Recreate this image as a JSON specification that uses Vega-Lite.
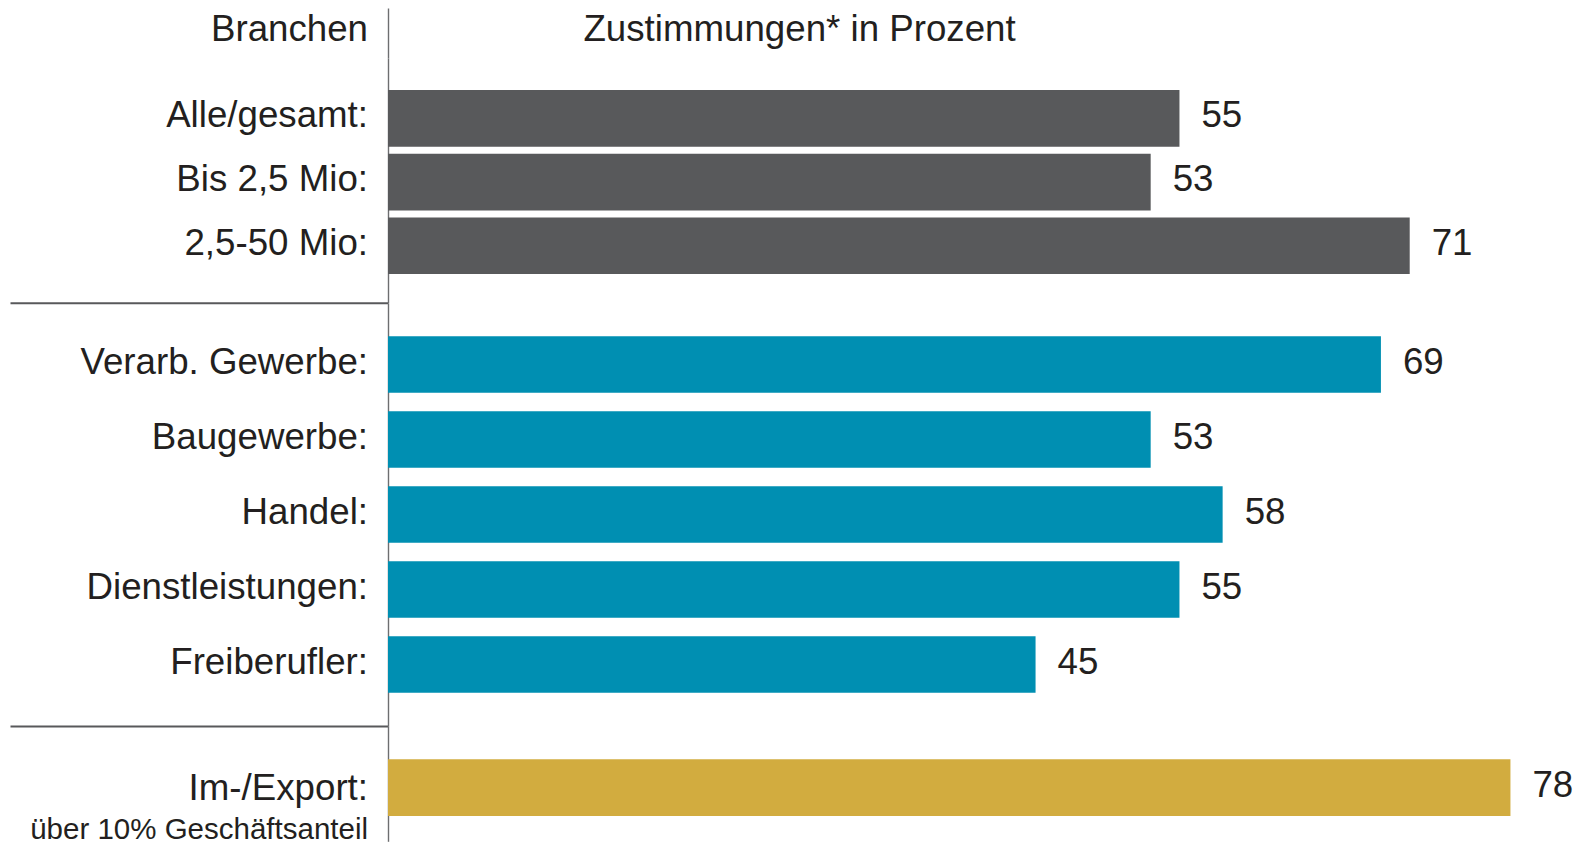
{
  "$schema": "https://vega.github.io/schema/vega-lite/v6.json",
  "padding": {"left": 10, "top": 8, "right": 0, "bottom": 0},
  "autosize": {"type": "pad"},
  "background": "white",
  "config": {"view": {"stroke": null}, "font": "Liberation Sans"},
  "datasets": {
    "head": [{"row": "h", "branch": "Branchen", "title": "Zustimmungen* in Prozent"}],
    "g1": [
      {"label": "Alle/gesamt:", "value": 55},
      {"label": "Bis 2,5 Mio:", "value": 53},
      {"label": "2,5-50 Mio:", "value": 71}
    ],
    "g2": [
      {"label": "Verarb. Gewerbe:", "value": 69},
      {"label": "Baugewerbe:", "value": 53},
      {"label": "Handel:", "value": 58},
      {"label": "Dienstleistungen:", "value": 55},
      {"label": "Freiberufler:", "value": 45}
    ],
    "g3": [
      {"label": "Im-/Export:", "sub": "über 10% Geschäftsanteil", "value": 78}
    ]
  },
  "columns": 2,
  "spacing": 0,
  "bounds": "flush",
  "concat": [
    {
      "width": 378, "height": 50,
      "data": {"name": "head"},
      "mark": {"type": "text", "align": "right", "baseline": "alphabetic", "dx": -20, "dy": 7.5, "fontSize": 36.7, "font": "Liberation Sans", "color": "#231f20"},
      "encoding": {
        "y": {"field": "row", "type": "nominal", "axis": null, "scale": {"type": "band", "paddingInner": 0, "paddingOuter": 0}},
        "x": {"datum": 1, "type": "quantitative", "scale": {"domain": [0, 1], "nice": false}, "axis": null},
        "text": {"field": "branch"}
      }
    },
    {
      "width": 1180, "height": 50,
      "data": {"name": "head"},
      "mark": {"type": "text", "align": "center", "baseline": "alphabetic", "dy": 7.5, "fontSize": 36.7, "font": "Liberation Sans", "color": "#231f20"},
      "encoding": {
        "y": {"field": "row", "type": "nominal", "scale": {"type": "band", "paddingInner": 0, "paddingOuter": 0},
              "axis": {"domain": true, "domainColor": "#6d6e70", "domainWidth": 1.4, "ticks": false, "labels": false, "grid": false, "title": null}},
        "x": {"datum": 28.6, "type": "quantitative", "scale": {"domain": [0, 82], "nice": false}, "axis": null},
        "text": {"field": "title"}
      }
    },
    {
      "width": 378, "height": 244.7,
      "data": {"name": "g1"},
      "mark": {"type": "text", "align": "right", "baseline": "alphabetic", "dx": -20, "dy": 9, "fontSize": 36.7, "font": "Liberation Sans", "color": "#231f20"},
      "encoding": {
        "y": {"field": "label", "type": "nominal", "sort": null, "axis": null, "scale": {"type": "band", "paddingInner": 0.11, "paddingOuter": 0.4757, "align": 0.528}},
        "x": {"datum": 1, "type": "quantitative", "scale": {"domain": [0, 1], "nice": false},
              "axis": {"domain": true, "domainColor": "#58595b", "domainWidth": 2, "ticks": false, "labels": false, "grid": false, "title": null}},
        "text": {"field": "label"}
      }
    },
    {
      "width": 1180, "height": 244.7,
      "data": {"name": "g1"},
      "encoding": {
        "y": {"field": "label", "type": "nominal", "sort": null, "scale": {"type": "band", "paddingInner": 0.11, "paddingOuter": 0.4757, "align": 0.528},
              "axis": {"domain": true, "domainColor": "#6d6e70", "domainWidth": 1.4, "ticks": false, "labels": false, "grid": false, "title": null}},
        "x": {"field": "value", "type": "quantitative", "scale": {"domain": [0, 82], "nice": false}, "axis": null}
      },
      "layer": [
        {"mark": {"type": "bar", "color": "#58595b"}},
        {"mark": {"type": "text", "align": "left", "baseline": "alphabetic", "dx": 22, "dy": 9, "fontSize": 36.7, "font": "Liberation Sans", "color": "#231f20"},
         "encoding": {"text": {"field": "value"}}}
      ]
    },
    {
      "width": 378, "height": 423,
      "data": {"name": "g2"},
      "mark": {"type": "text", "align": "right", "baseline": "alphabetic", "dx": -20, "dy": 9, "fontSize": 36.7, "font": "Liberation Sans", "color": "#231f20"},
      "encoding": {
        "y": {"field": "label", "type": "nominal", "sort": null, "axis": null, "scale": {"type": "band", "paddingInner": 0.244, "paddingOuter": 0.442, "align": 0.5}},
        "x": {"datum": 1, "type": "quantitative", "scale": {"domain": [0, 1], "nice": false},
              "axis": {"domain": true, "domainColor": "#58595b", "domainWidth": 2, "ticks": false, "labels": false, "grid": false, "title": null}},
        "text": {"field": "label"}
      }
    },
    {
      "width": 1180, "height": 423,
      "data": {"name": "g2"},
      "encoding": {
        "y": {"field": "label", "type": "nominal", "sort": null, "scale": {"type": "band", "paddingInner": 0.244, "paddingOuter": 0.442, "align": 0.5},
              "axis": {"domain": true, "domainColor": "#6d6e70", "domainWidth": 1.4, "ticks": false, "labels": false, "grid": false, "title": null}},
        "x": {"field": "value", "type": "quantitative", "scale": {"domain": [0, 82], "nice": false}, "axis": null}
      },
      "layer": [
        {"mark": {"type": "bar", "color": "#008fb2"}},
        {"mark": {"type": "text", "align": "left", "baseline": "alphabetic", "dx": 22, "dy": 9, "fontSize": 36.7, "font": "Liberation Sans", "color": "#231f20"},
         "encoding": {"text": {"field": "value"}}}
      ]
    },
    {
      "width": 378, "height": 115.3,
      "data": {"name": "g3"},
      "encoding": {
        "y": {"field": "label", "type": "nominal", "sort": null, "axis": null, "scale": {"type": "band", "paddingInner": 0, "paddingOuter": 0.5168, "align": 0.568}},
        "x": {"datum": 1, "type": "quantitative", "scale": {"domain": [0, 1], "nice": false}, "axis": null}
      },
      "layer": [
        {"mark": {"type": "text", "align": "right", "baseline": "alphabetic", "dx": -20, "dy": 12, "fontSize": 36.7, "font": "Liberation Sans", "color": "#231f20"},
         "encoding": {"text": {"field": "label"}}},
        {"mark": {"type": "text", "align": "right", "baseline": "alphabetic", "dx": -20, "dy": 51, "fontSize": 29.5, "font": "Liberation Sans", "color": "#231f20"},
         "encoding": {"text": {"field": "sub"}}}
      ]
    },
    {
      "width": 1180, "height": 115.3,
      "data": {"name": "g3"},
      "encoding": {
        "y": {"field": "label", "type": "nominal", "sort": null, "scale": {"type": "band", "paddingInner": 0, "paddingOuter": 0.5168, "align": 0.568},
              "axis": {"domain": true, "domainColor": "#6d6e70", "domainWidth": 1.4, "ticks": false, "labels": false, "grid": false, "title": null}},
        "x": {"field": "value", "type": "quantitative", "scale": {"domain": [0, 82], "nice": false}, "axis": null}
      },
      "layer": [
        {"mark": {"type": "bar", "color": "#d2ac3f"}},
        {"mark": {"type": "text", "align": "left", "baseline": "alphabetic", "dx": 22, "dy": 9, "fontSize": 36.7, "font": "Liberation Sans", "color": "#231f20"},
         "encoding": {"text": {"field": "value"}}}
      ]
    }
  ]
}
